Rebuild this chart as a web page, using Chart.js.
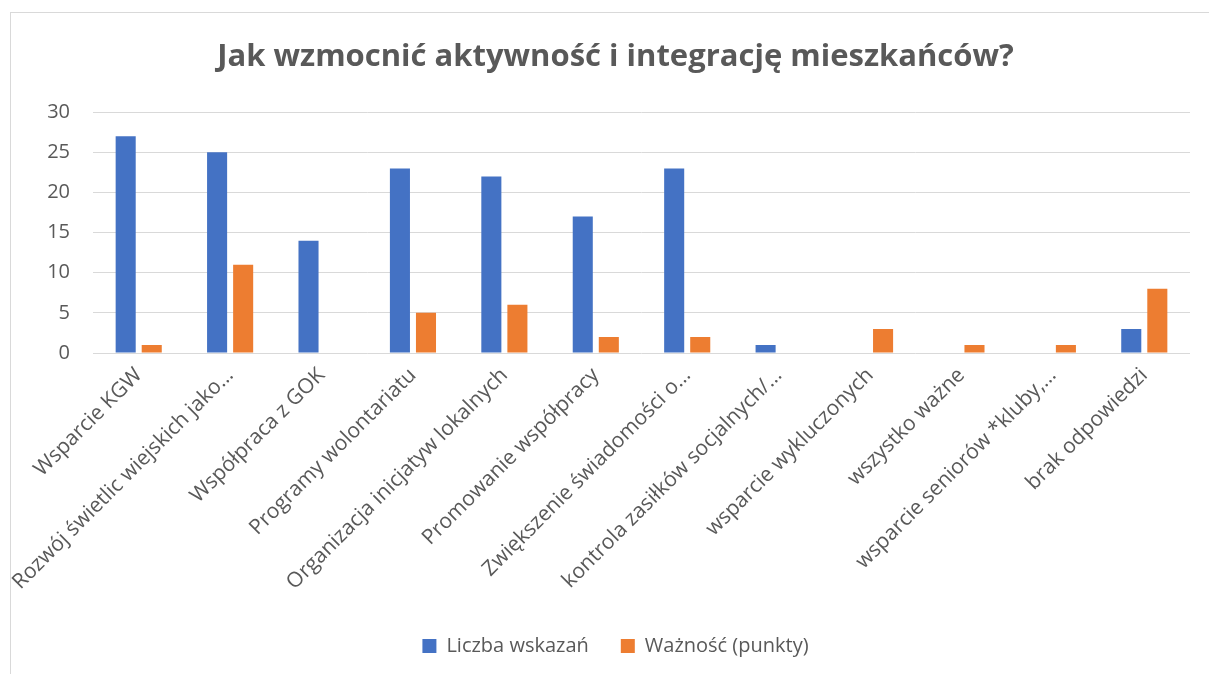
<!DOCTYPE html>
<html lang="pl">
<head>
<meta charset="utf-8">
<title>Jak wzmocnić aktywność i integrację mieszkańców?</title>
<script src="https://cdn.jsdelivr.net/npm/chart.js@4/dist/chart.umd.min.js"></script>
<style>
	html, body { margin: 0; padding: 0; background: #fff; overflow: hidden; }
	#box {
		position: absolute;
		left: 10px;
		top: 12px;
		width: 1210px;
		height: 670px;
		border: 1px solid #d9d9d9;
	}
</style>
</head>
<body>
<div id="box"><canvas id="chart" width="1210" height="670"></canvas></div>
<script>
"use strict";

const categories = [
	"Wsparcie KGW",
	"Rozwój świetlic wiejskich jako…",
	"Współpraca z GOK",
	"Programy wolontariatu",
	"Organizacja inicjatyw lokalnych",
	"Promowanie współpracy",
	"Zwiększenie świadomości o…",
	"kontrola zasiłków socjalnych/…",
	"wsparcie wykluczonych",
	"wszystko ważne",
	"wsparcie seniorów *kluby,…",
	"brak odpowiedzi"
];
const liczbaWskazan = [27, 25, 14, 23, 22, 17, 23, 1, 0, 0, 0, 3];
const waznoscPunkty = [1, 11, 0, 5, 6, 2, 2, 0, 3, 1, 1, 8];
const yTicks = [0, 5, 10, 15, 20, 25, 30];

const textColor = "#595959";
const gridColor = "#d9d9d9";
const fontFamily = "'Open Sans', 'Noto Sans', sans-serif";

const ctx = document.getElementById("chart").getContext("2d");

new Chart(ctx, {
	type: "bar",
	data: {
		labels: categories,
		datasets: [
			{
				label: "Liczba wskazań",
				data: liczbaWskazan,
				backgroundColor: "#4472C4",
				categoryPercentage: 0.57,
				barPercentage: 0.77
			},
			{
				label: "Ważność (punkty)",
				data: waznoscPunkty,
				backgroundColor: "#ED7D31",
				categoryPercentage: 0.57,
				barPercentage: 0.77
			}
		]
	},
	options: {
		responsive: false,
		animation: false,
		layout: {
			padding: { top: 26, right: 31, bottom: 17, left: 30 }
		},
		plugins: {
			title: {
				display: true,
				text: "Jak wzmocnić aktywność i integrację mieszkańców?",
				color: textColor,
				font: { family: fontFamily, size: 31, weight: "bold" },
				padding: { top: 0, bottom: 36 }
			},
			legend: {
				position: "bottom",
				labels: {
					color: textColor,
					font: { family: fontFamily, size: 20 },
					boxWidth: 14,
					boxHeight: 14,
					padding: 32
				}
			},
			tooltip: { enabled: false }
		},
		scales: {
			x: {
				grid: { display: false, drawTicks: false },
				border: { display: false },
				ticks: {
					color: textColor,
					font: { family: fontFamily, size: 21 },
					minRotation: 45,
					maxRotation: 45,
					autoSkip: false,
					padding: 10
				},
				afterFit: (scale) => { scale.height = 251; }
			},
			y: {
				min: 0,
				max: 30,
				afterBuildTicks: (scale) => {
					scale.ticks = yTicks.map(v => ({ value: v }));
				},
				grid: { color: gridColor, lineWidth: 1, drawTicks: false },
				border: { display: false },
				ticks: {
					color: textColor,
					font: { family: fontFamily, size: 20 },
					padding: 23
				},
				afterFit: (scale) => { scale.width = 52; }
			}
		}
	}
});
</script>
</body>
</html>
